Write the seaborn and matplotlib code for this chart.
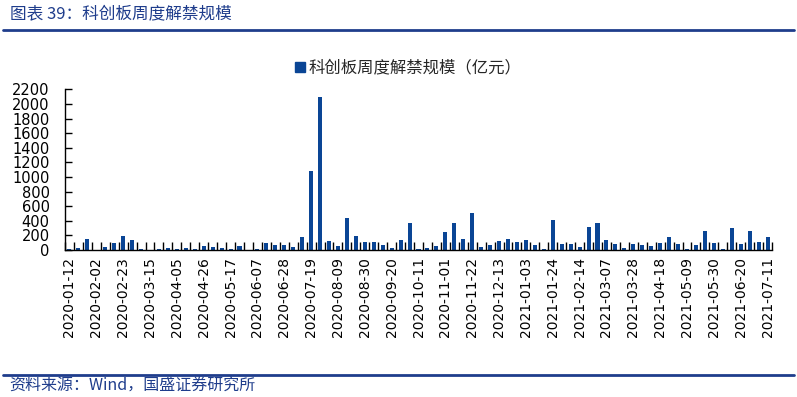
import numpy as np
import pandas as pd
import matplotlib
matplotlib.use("Agg")
import matplotlib.pyplot as plt
from matplotlib.lines import Line2D
import seaborn as sns

# ---- data ----
weeks = pd.date_range("2020-01-12", "2021-07-11", freq="7D").strftime("%Y-%m-%d").tolist()
values = [15, 30, 150, 0, 40, 98, 196, 140, 14, 0,
          14, 30, 13, 30, 13, 57, 42, 30, 14, 57,
          0, 14, 97, 72, 72, 41, 180, 1083, 2097, 125,
          57, 440, 194, 112, 112, 72, 27, 139, 372, 16,
          27, 55, 248, 372, 152, 508, 43, 70, 125, 152,
          112, 139, 70, 16, 410, 84, 84, 43, 316, 372,
          137, 82, 27, 82, 68, 55, 96, 178, 82, 14,
          68, 260, 96, 14, 300, 82, 260, 110, 178]
series_name = "科创板周度解禁规模（亿元）"
title = "图表 39：科创板周度解禁规模"
source = "资料来源：Wind，国盛证券研究所"
yticks = list(range(0, 2201, 200))

df = pd.DataFrame({"week": weeks, "value": values})

sns.set_theme(style="white")
plt.rcParams["font.family"] = ["Noto Sans CJK SC", "DejaVu Sans"]

BAR = "#0A4595"
NAVY = "#1F3D8C"

fig = plt.figure(figsize=(7.97, 3.97), dpi=100)
ax = fig.add_axes([65 / 797, 147 / 397, 707 / 797, 160.7 / 397])
sns.barplot(data=df, x="week", y="value", color=BAR, saturation=1,
            width=0.45, ax=ax, errorbar=None, linewidth=0, edgecolor=BAR)

ax.set_xlim(-0.5, len(weeks) - 0.5)
ax.set_ylim(0, 2200)
ax.set_yticks(yticks)
ax.set_yticklabels([str(v) for v in yticks], fontsize=10.5, family="DejaVu Sans")
ax.set_xticks(range(0, len(weeks), 3))
ax.set_xticklabels(weeks[::3], rotation=90, fontsize=10, family="DejaVu Sans")
ax.set_xticks(np.arange(-0.5, len(weeks), 1), minor=True)
ax.tick_params(axis="x", which="major", length=0, pad=5, colors="black")
ax.tick_params(axis="x", which="minor", direction="in", length=6, width=1, color="black", bottom=True)
ax.tick_params(axis="y", direction="in", length=5, width=1, color="black", left=True, pad=11, labelcolor="black")
ax.set_xlabel("")
ax.set_ylabel("")
for s in ["top", "right"]:
    ax.spines[s].set_visible(False)
for s in ["left", "bottom"]:
    ax.spines[s].set_color("black")
    ax.spines[s].set_linewidth(1)
ax.grid(False)

handle = Line2D([], [], marker="s", linestyle="", color=BAR, markersize=7.5)
fig.legend([handle], [series_name], loc="center", bbox_to_anchor=(0.511, 1 - 68 / 397),
           frameon=False, fontsize=11.8, handletextpad=0.1, handlelength=0.8)

fig.text(0.012, 1 - 14 / 397, title, color=NAVY, fontsize=12, va="center", ha="left")
fig.add_artist(Line2D([0.004, 0.996], [1 - 30 / 397] * 2, color=NAVY, lw=2))
fig.add_artist(Line2D([0.004, 0.996], [1 - 375 / 397] * 2, color=NAVY, lw=2))
fig.text(0.012, 1 - 386 / 397, source, color=NAVY, fontsize=11.5, va="center", ha="left")

fig.savefig("out.png", dpi=100)
